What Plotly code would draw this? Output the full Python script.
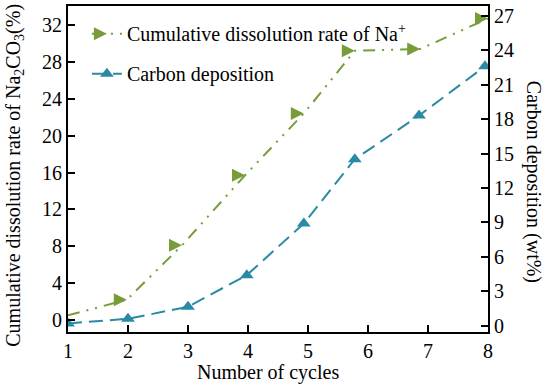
import plotly.graph_objects as go

# Data
na_x = [1, 1.98, 2.9, 3.95, 4.93, 5.78, 6.87, 8]
na_y = [0.5, 2.2, 8.1, 15.7, 22.4, 29.2, 29.4, 32.7]
c_x = [1, 2, 3, 3.98, 4.93, 5.78, 6.85, 7.95]
c_y = [0.2, 0.6, 1.65, 4.4, 8.9, 14.5, 18.3, 22.6]

x_ticks = [1, 2, 3, 4, 5, 6, 7, 8]
left_ticks = [0, 4, 8, 12, 16, 20, 24, 28, 32]
right_ticks = [0, 3, 6, 9, 12, 15, 18, 21, 24, 27]

GREEN = "#779c38"
BLUE = "#2a8aa6"
FONT = "Liberation Serif"
FS = 20

fig = go.Figure()
fig.add_trace(go.Scatter(
    x=na_x, y=na_y, mode="lines+markers", name="Cumulative dissolution rate of Na<sup>+</sup>",
    legendgroup="a",
    line=dict(color=GREEN, width=2, dash="12px,7px,2px,7px,2px,7px"),
    marker=dict(symbol="arrow-right", size=13, color=GREEN),
    yaxis="y"))
fig.add_trace(go.Scatter(
    x=c_x, y=c_y, mode="lines+markers", name="Carbon deposition",
    legendgroup="b",
    line=dict(color=BLUE, width=2, dash="14px,7px"),
    marker=dict(symbol="triangle-up", size=12, color=BLUE),
    yaxis="y2"))

axis_common = dict(showline=True, linecolor="black", linewidth=2, ticks="inside",
                   ticklen=7, tickwidth=2, tickcolor="black", showgrid=False, zeroline=False,
                   automargin=False,
                   tickfont=dict(family=FONT, size=FS, color="black"))

fig.update_layout(
    width=550, height=391,
    margin=dict(l=68, r=62, t=6, b=59, autoexpand=False),
    paper_bgcolor="white", plot_bgcolor="white",
    font=dict(family=FONT, size=FS, color="black"),
    showlegend=True,
    legend=dict(x=0.045, y=0.975, xanchor="left", yanchor="top", bgcolor="rgba(0,0,0,0)",
                traceorder="grouped", tracegroupgap=11, font=dict(family=FONT, size=FS)),
    xaxis=dict(range=[1, 8], tickvals=x_ticks, mirror=True, **axis_common),
    yaxis=dict(range=[-1.3, 34.06], tickvals=left_ticks, **axis_common),
    yaxis2=dict(range=[-0.55, 27.85], tickvals=right_ticks, overlaying="y", side="right",
                **axis_common),
)

fig.add_annotation(text="Cumulative dissolution rate of Na<sub>2</sub>CO<sub>3</sub>(%)",
                   xref="paper", yref="paper", x=-0.128, y=0.48, textangle=-90,
                   showarrow=False, xanchor="center", yanchor="middle",
                   font=dict(family=FONT, size=FS))
fig.add_annotation(text="Carbon deposition (wt%)",
                   xref="paper", yref="paper", x=1.11, y=0.46, textangle=90,
                   showarrow=False, xanchor="center", yanchor="middle",
                   font=dict(family=FONT, size=FS))
fig.add_annotation(text="Number of cycles",
                   xref="paper", yref="paper", x=0.475, y=-0.123,
                   showarrow=False, xanchor="center", yanchor="middle",
                   font=dict(family=FONT, size=FS))

fig.write_html("out.html", config={"displayModeBar": False},
               post_script="document.body.style.margin='0';")
